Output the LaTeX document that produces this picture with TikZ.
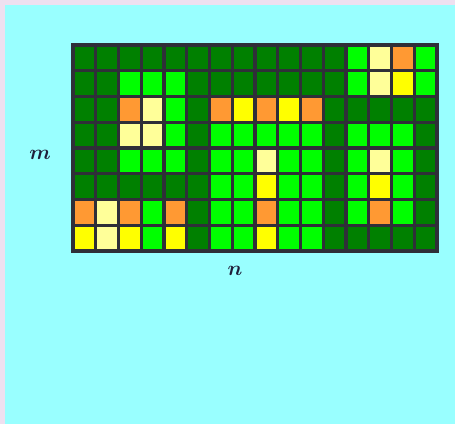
\documentclass[tikz,border=0pt]{standalone}
\usepackage{bm}
\begin{document}
\begin{tikzpicture}[x=1pt,y=-1pt]
\definecolor{lav}{HTML}{EEE0F0}
\definecolor{bg}{HTML}{99FFFF}
\definecolor{colD}{HTML}{008000}
\definecolor{colB}{HTML}{00FF00}
\definecolor{colP}{HTML}{FFFF99}
\definecolor{colO}{HTML}{FF9933}
\definecolor{colY}{HTML}{FFFF00}
\definecolor{gridc}{HTML}{2F2F38}
\definecolor{txt}{HTML}{1F1F3A}
\tikzset{gridline/.style={draw=gridc,line width=3.3pt},
  lbl/.style={text=txt,font=\fontsize{21}{25}\selectfont,inner sep=0pt}}
\fill[lav] (0,0) rectangle (455,424);
\fill[bg] (5,5) rectangle (455,424);
\useasboundingbox (0,0) rectangle (455,424);
\def\gx{73}\def\gy{45}\def\cw{22.75}\def\ch{25.75}
\foreach \row [count=\r] in {
 {D,D,D,D,D,D,D,D,D,D,D,D,B,P,O,B},
 {D,D,B,B,B,D,D,D,D,D,D,D,B,P,Y,B},
 {D,D,O,P,B,D,O,Y,O,Y,O,D,D,D,D,D},
 {D,D,P,P,B,D,B,B,B,B,B,D,B,B,B,D},
 {D,D,B,B,B,D,B,B,P,B,B,D,B,P,B,D},
 {D,D,D,D,D,D,B,B,Y,B,B,D,B,Y,B,D},
 {O,P,O,B,O,D,B,B,O,B,B,D,B,O,B,D},
 {Y,P,Y,B,Y,D,B,B,Y,B,B,D,D,D,D,D}} {
  \foreach \c [count=\k] in \row {
    \fill[col\c] ({\gx+(\k-1)*\cw},{\gy+(\r-1)*\ch}) rectangle ++(\cw,\ch);
  }
}
\foreach \k in {0,...,16} {
  \draw[gridline] ({\gx+\k*\cw},\gy-1.65) -- ({\gx+\k*\cw},{\gy+8*\ch+1.65});
}
\foreach \r in {0,...,8} {
  \draw[gridline] (\gx-1.65,{\gy+\r*\ch}) -- ({\gx+16*\cw+1.65},{\gy+\r*\ch});
}
\node[lbl] (m) at (40,155) {$\bm{m}$};
\node[lbl] (n) at (235,271) {$\bm{n}$};
\end{tikzpicture}
\end{document}
